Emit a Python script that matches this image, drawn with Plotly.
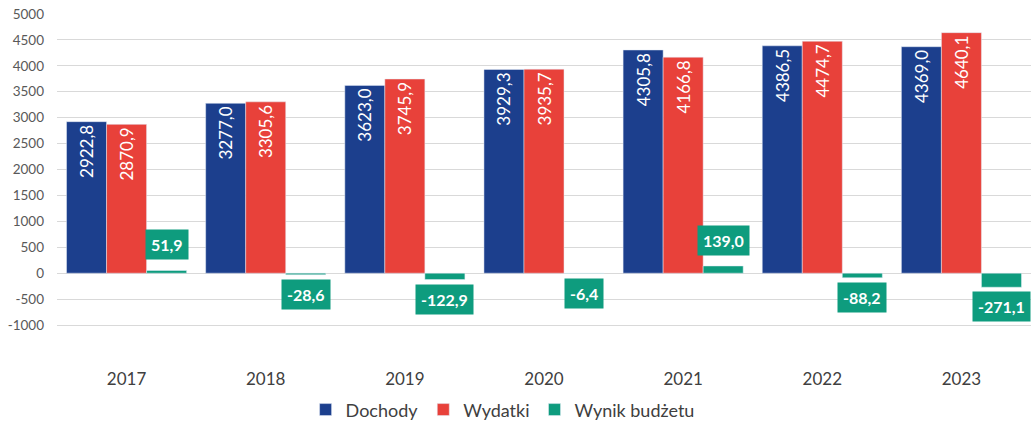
import plotly.graph_objects as go

years = ["2017", "2018", "2019", "2020", "2021", "2022", "2023"]
dochody = [2922.8, 3277.0, 3623.0, 3929.3, 4305.8, 4386.5, 4369.0]
wydatki = [2870.9, 3305.6, 3745.9, 3935.7, 4166.8, 4474.7, 4640.1]
wynik = [51.9, -28.6, -122.9, -6.4, 139.0, -88.2, -271.1]
y_ticks = [-1000, -500, 0, 500, 1000, 1500, 2000, 2500, 3000, 3500, 4000, 4500, 5000]

C_DOCH = "#1C3F8D"
C_WYD = "#E8413A"
C_WYN = "#0E9C7E"
FONT = "Lato"


def fmt(v):
    return f"{v:.1f}".replace(".", ",")


fig = go.Figure()
fig.add_trace(go.Bar(
    name="Dochody", x=years, y=dochody, marker_color=C_DOCH,
    text=[fmt(v) for v in dochody], textposition="inside", insidetextanchor="end",
    textangle=-90, textfont=dict(color="white", size=17, family=FONT),
))
fig.add_trace(go.Bar(
    name="Wydatki", x=years, y=wydatki, marker_color=C_WYD,
    text=[fmt(v) for v in wydatki], textposition="inside", insidetextanchor="end",
    textangle=-90, textfont=dict(color="white", size=17, family=FONT),
))
fig.add_trace(go.Bar(
    name="Wynik budżetu", x=years, y=wynik, marker_color=C_WYN,
    textposition="none",
))

# category axis: annotation x is the category index
for i, v in enumerate(wynik):
    fig.add_annotation(
        x=i, y=v, xref="x", yref="y", xshift=40,
        yanchor="bottom" if v >= 0 else "top",
        yshift=10 if v >= 0 else -4,
        text=f"<b>{fmt(v)}</b>", showarrow=False,
        bgcolor=C_WYN, borderpad=5,
        font=dict(color="white", size=16, family=FONT),
    )

fig.update_layout(
    width=1032, height=423,
    margin=dict(l=57, r=1, t=14, b=56),
    paper_bgcolor="white", plot_bgcolor="white",
    barmode="group", bargap=0.137, bargroupgap=0,
    font=dict(family=FONT, color="#404040"),
    legend=dict(orientation="h", xref="container", yref="container",
                x=0.487, xanchor="center", y=0.031, yanchor="middle",
                font=dict(size=18, color="#404040", family=FONT), traceorder="normal",
                itemwidth=30),
    showlegend=True,
)
fig.update_yaxes(
    range=[-1810, 5000], tickvals=y_ticks, ticktext=[str(t) for t in y_ticks],
    showgrid=True, gridcolor="#D9D9D9", gridwidth=1,
    zeroline=True, zerolinecolor="#D9D9D9", zerolinewidth=1,
    tickfont=dict(size=13.5, color="#595959", family=FONT), ticks="",
    ticklabelstandoff=12, automargin=False,
)
fig.update_xaxes(
    type="category", range=[-0.5, len(years) - 0.5],
    showgrid=False, showline=False, ticks="", automargin=False,
    tickfont=dict(size=17, color="#404040", family=FONT),
)

fig.write_html("out.html", config={"displayModeBar": False},
               post_script="document.body.style.margin='0';")
